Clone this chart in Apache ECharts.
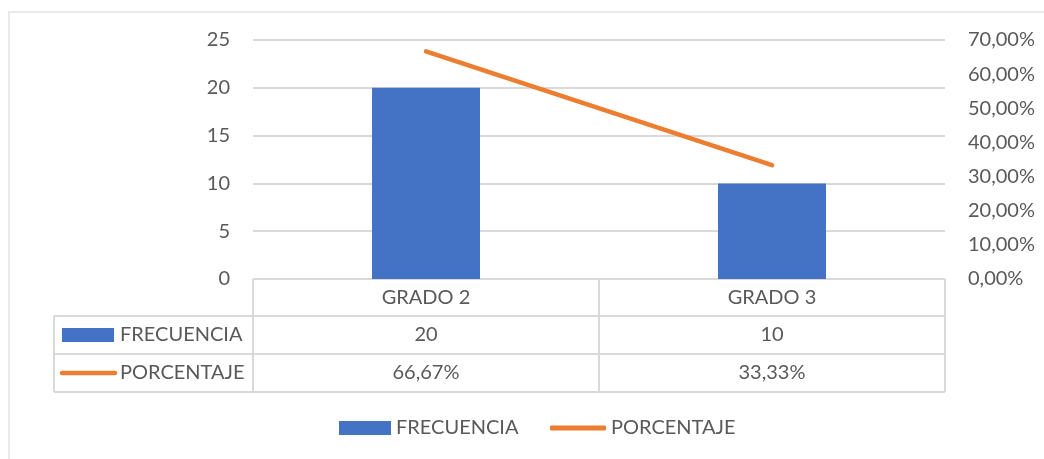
<!DOCTYPE html>
<html>
<head>
<meta charset="utf-8">
<script src="https://cdn.jsdelivr.net/npm/echarts@6/dist/echarts.min.js"></script>
<style>
html, body { margin: 0; padding: 0; background: #fff; }
#chart { width: 1044px; height: 459px; }
</style>
</head>
<body>
<div id="chart"></div>
<script>
// datos
const categorias = ['GRADO 2', 'GRADO 3']
const frecuencia = [20, 10]
const porcentaje = [66.67, 33.33]

const AZUL = '#4472C4'
const NARANJA = '#ED7D31'
const GRIS = '#595959'
const LINEA = '#d9d9d9'
const FUENTE = 'Lato'

const pct = v => v.toFixed(2).replace('.', ',') + '%'

// grid
const gLeft = 253, gRight = 945, gTop = 40, gBottom = 279
const filas = [279, 316, 354, 392]
const colIzq = 54

const chart = echarts.init(document.getElementById('chart'))
chart.setOption({
  animation: false,
  textStyle: { fontFamily: FUENTE },
  grid: { left: gLeft, right: 1044 - gRight, top: gTop, bottom: 459 - gBottom },
  legend: [
    {
      data: [{ name: 'FRECUENCIA', icon: 'rect' }],
      left: 339, top: 418, padding: 0,
      itemWidth: 52, itemHeight: 14,
      textStyle: { color: GRIS, fontSize: 20, fontFamily: FUENTE }
    },
    {
      data: [{ name: 'PORCENTAJE', icon: 'roundRect' }],
      left: 550, top: 418, padding: 0,
      itemWidth: 56, itemHeight: 5,
      textStyle: { color: GRIS, fontSize: 20, fontFamily: FUENTE }
    }
  ],
  xAxis: {
    type: 'category',
    data: categorias,
    axisLine: { show: false },
    axisTick: { show: false },
    axisLabel: { color: GRIS, fontSize: 20, margin: 9 }
  },
  yAxis: [
    {
      type: 'value', min: 0, max: 25, interval: 5,
      axisLine: { show: false }, axisTick: { show: false },
      axisLabel: { color: GRIS, fontSize: 20, margin: 23 },
      splitLine: { lineStyle: { color: LINEA, width: 2 } }
    },
    {
      type: 'value', min: 0, max: 70, interval: 10,
      axisLine: { show: false }, axisTick: { show: false },
      axisLabel: { color: GRIS, fontSize: 20, margin: 23, formatter: v => pct(v) },
      splitLine: { show: false }
    }
  ],
  series: [
    {
      name: 'FRECUENCIA', type: 'bar', data: frecuencia,
      barWidth: 108, itemStyle: { color: AZUL }
    },
    {
      name: 'PORCENTAJE', type: 'line', yAxisIndex: 1, data: porcentaje,
      symbol: 'none', itemStyle: { color: NARANJA },
      lineStyle: { color: NARANJA, width: 4.5, cap: 'round' }
    }
  ]
})

// tabla de datos debajo del eje
const cx = categorias.map(c => chart.convertToPixel({ xAxisIndex: 0 }, c))
const graficos = []
const linea = (x1, y1, x2, y2) => graficos.push({
  type: 'line', silent: true,
  shape: { x1, y1, x2, y2 },
  style: { stroke: LINEA, lineWidth: 2 }
})
const texto = (x, y, t, align) => graficos.push({
  type: 'text', silent: true, x, y,
  style: { text: t, fill: GRIS, font: '20px ' + FUENTE, align: align || 'center', verticalAlign: 'middle' }
})

// marco
graficos.push({
  type: 'rect', silent: true,
  shape: { x: 9, y: 12, width: 1100, height: 500 },
  style: { fill: 'none', stroke: '#e3e3e3', lineWidth: 1.5 }
})

linea(gLeft, filas[0], gRight, filas[0])
for (let i = 1; i < filas.length; i++) linea(colIzq, filas[i], gRight, filas[i])
linea(colIzq, filas[1], colIzq, filas[3])
const bordes = [gLeft, (cx[0] + cx[1]) / 2, gRight]
bordes.forEach(x => linea(x, filas[0], x, filas[3]))

const yFila1 = (filas[1] + filas[2]) / 2
const yFila2 = (filas[2] + filas[3]) / 2
graficos.push({
  type: 'rect', silent: true,
  shape: { x: 62, y: yFila1 - 7, width: 52, height: 14 },
  style: { fill: AZUL }
})
graficos.push({
  type: 'line', silent: true,
  shape: { x1: 62, y1: yFila2, x2: 115, y2: yFila2 },
  style: { stroke: NARANJA, lineWidth: 4.5, lineCap: 'round' }
})
texto(120, yFila1, 'FRECUENCIA', 'left')
texto(120, yFila2, 'PORCENTAJE', 'left')
categorias.forEach((c, i) => {
  texto(cx[i], yFila1, String(frecuencia[i]))
  texto(cx[i], yFila2, pct(porcentaje[i]))
})

chart.setOption({ graphic: graficos })
</script>
</body>
</html>
